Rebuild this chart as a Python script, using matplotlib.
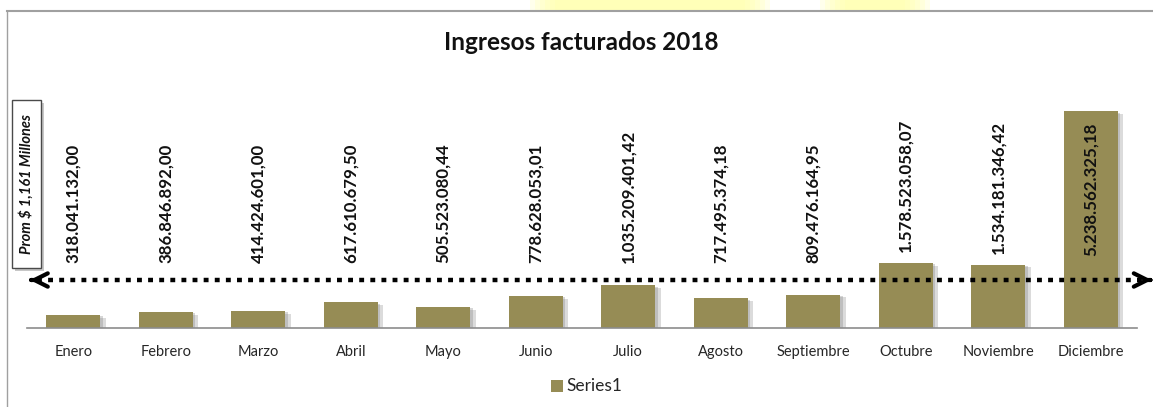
import matplotlib
matplotlib.use("Agg")
import matplotlib.pyplot as plt
import matplotlib.patheffects as pe
from matplotlib.patches import Rectangle
from matplotlib.lines import Line2D

months = ["Enero", "Febrero", "Marzo", "Abril", "Mayo", "Junio", "Julio",
          "Agosto", "Septiembre", "Octubre", "Noviembre", "Diciembre"]
values = [318041132.00, 386846892.00, 414424601.00, 617610679.50,
          505523080.44, 778628053.01, 1035209401.42, 717495374.18,
          809476164.95, 1578523058.07, 1534181346.42, 5238562325.18]
series_name = "Series1"
title = "Ingresos facturados 2018"

BAR = "#968C55"
FONT = ["Lato", "DejaVu Sans"]
plt.rcParams["font.family"] = FONT

W, H = 1153, 407
fig = plt.figure(figsize=(W / 100, H / 100), dpi=100)

def fx(px):
    return px / W

def fy(py):
    return 1 - py / H

# axes: x 27..1137, y 80..328
ax = fig.add_axes([fx(27), fy(328), fx(1137) - fx(27), fy(80) - fy(328)])
x = list(range(len(months)))
shadow = [pe.SimplePatchShadow(offset=(4, -2), shadow_rgbFace="#9a9a9a", alpha=0.35),
          pe.SimplePatchShadow(offset=(2, -1), shadow_rgbFace="#8a8a8a", alpha=0.35),
          pe.Normal()]
bars = ax.bar(x, values, width=0.58, color=BAR, zorder=2)
for b in bars:
    b.set_path_effects(shadow)
ax.set_xlim(-0.5, 11.5)
ax.set_ylim(0, 6e9)
ax.set_yticks([])
for s in ["top", "right", "left"]:
    ax.spines[s].set_visible(False)
ax.spines["bottom"].set_color("#8c8c8c")
ax.spines["bottom"].set_linewidth(1.2)
ax.set_xticks(x)
ax.set_xticklabels(months, fontsize=10.5, color="#262626")
ax.tick_params(axis="x", length=0, pad=12)

def fmt(v):
    s = f"{v:,.2f}"
    return s.replace(",", "X").replace(".", ",").replace("X", ".")

vmax = max(values)
for i, v in enumerate(values):
    if v == vmax:
        ax.text(i, v - 0.27e9, fmt(v), rotation=90, ha="center", va="top",
                fontsize=12.2, fontweight="bold", color="#111111", zorder=4)
    else:
        ax.text(i, max(v + 0.26e9, 1.57e9), fmt(v), rotation=90, ha="center",
                va="bottom", fontsize=12.2, fontweight="bold", color="#111111", zorder=4)

# average line (dotted with arrow heads)
avg = sum(values) / len(values)
xl, xr = -0.47, 11.66
ax.plot([xl + 0.08, xr - 0.08], [avg, avg], color="black", lw=3.2,
        linestyle=(0, (1.1, 1.4)), dash_capstyle="butt", zorder=5, clip_on=False)
for a, b in [(xl, xl + 0.02), (xr, xr - 0.02)]:
    ax.annotate("", xy=(a, avg), xytext=(b, avg),
                arrowprops=dict(arrowstyle="->", lw=3.0, color="black",
                                mutation_scale=24, shrinkA=0, shrinkB=0),
                annotation_clip=False, zorder=6)

# average box
box = Rectangle((fx(12), fy(268)), fx(41) - fx(12), fy(100) - fy(268),
                transform=fig.transFigure, facecolor="white", edgecolor="#4a4a4a",
                lw=1.0, zorder=3)
box.set_path_effects([pe.SimplePatchShadow(offset=(2, -2), shadow_rgbFace="#909090", alpha=0.5), pe.Normal()])
fig.add_artist(box)
fig.text(fx(26), fy(184), f"Prom $ {avg / 1e6:,.0f} Millones", rotation=90,
         ha="center", va="center", fontsize=10.5, fontstyle="italic",
         fontweight="bold", color="#111111")

# title
fig.text(fx(581), fy(42), title, ha="center", va="center", fontsize=17.5,
         fontweight="bold", color="#111111")

# legend
fig.add_artist(Rectangle((fx(551), fy(392)), fx(12), 12 / H,
                         transform=fig.transFigure, facecolor=BAR, edgecolor="none"))
fig.text(fx(566), fy(386), series_name, ha="left", va="center", fontsize=12.5,
         color="#262626")

# chart frame
fig.add_artist(Line2D([fx(7), 1], [fy(11), fy(11)], color="#a0a0a0", lw=1.5,
                      transform=fig.transFigure))
fig.add_artist(Line2D([fx(7), fx(7)], [fy(11), 0], color="#a0a0a0", lw=1.0,
                      transform=fig.transFigure))
# soft yellow glow at top
for x0, w in [(530, 240), (820, 110)]:
    for k in range(6):
        fig.add_artist(Rectangle((fx(x0 + k * 5), fy(10)), fx(w - k * 10), 10 / H,
                                 transform=fig.transFigure, facecolor="#ffffa0",
                                 edgecolor="none", alpha=0.2))

fig.savefig("out.png", dpi=100)
